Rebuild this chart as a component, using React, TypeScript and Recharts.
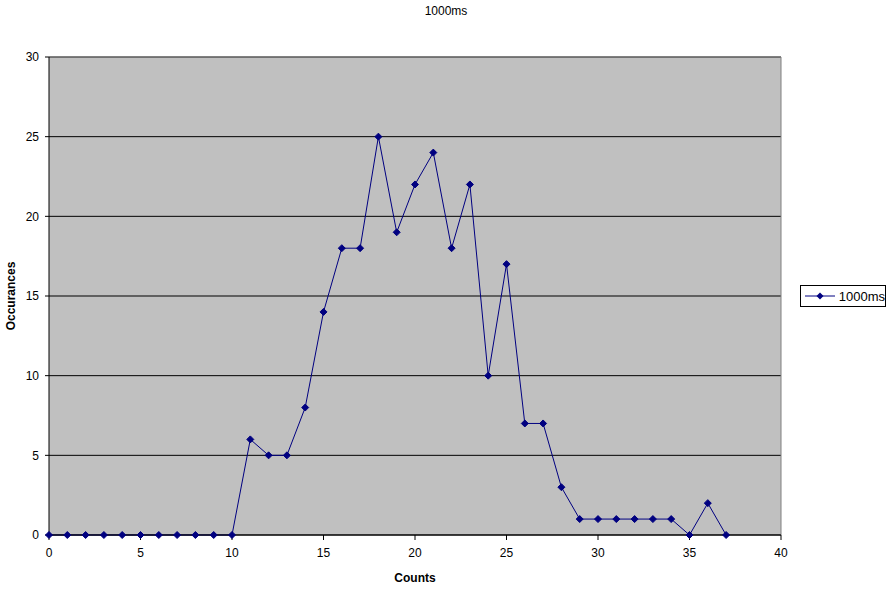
import React from 'react';
import {
  LineChart,
  Line,
  XAxis,
  YAxis,
  CartesianGrid,
  Legend,
  ReferenceLine,
} from 'recharts';

const counts = [
  0, 1, 2, 3, 4, 5, 6, 7, 8, 9, 10, 11, 12, 13, 14, 15, 16, 17, 18, 19, 20, 21, 22, 23, 24, 25, 26, 27, 28, 29, 30, 31,
  32, 33, 34, 35, 36, 37,
];
const occurances = [
  0, 0, 0, 0, 0, 0, 0, 0, 0, 0, 0, 6, 5, 5, 8, 14, 18, 18, 25, 19, 22, 24, 18, 22, 10, 17, 7, 7, 3, 1, 1, 1, 1, 1, 1, 0,
  2, 0,
];
const xTicks = [0, 5, 10, 15, 20, 25, 30, 35, 40];
const yTicks = [0, 5, 10, 15, 20, 25, 30];

const data = counts.map((c, i) => ({ count: c, value: occurances[i] }));

const font = '"Liberation Sans", Arial, sans-serif';
const navy = '#000080';

const Diamond = (props: any) => {
  const { cx, cy } = props;
  if (cx == null || cy == null) return null;
  const r = 3.5;
  return (
    <polygon
      points={`${cx},${cy - r} ${cx + r},${cy} ${cx},${cy + r} ${cx - r},${cy}`}
      fill={navy}
      stroke={navy}
    />
  );
};

const LegendBox = () => (
  <div
    style={{
      border: '1px solid #000',
      background: '#fff',
      width: 86,
      height: 22,
      display: 'flex',
      alignItems: 'center',
      fontFamily: font,
      fontSize: 13,
      boxSizing: 'border-box',
    }}
  >
    <svg width={36} height={10} style={{ marginLeft: 4 }}>
      <line x1={0} y1={5} x2={30} y2={5} stroke={navy} />
      <polygon points="15,1.5 18.5,5 15,8.5 11.5,5" fill={navy} />
    </svg>
    <span>1000ms</span>
  </div>
);

export default function App() {
  return (
    <div style={{ position: 'absolute', left: 0, top: 0, width: 892, height: 595, background: '#fff' }}>
      <div
        style={{
          position: 'absolute',
          top: 4,
          left: 0,
          width: 892,
          textAlign: 'center',
          fontFamily: font,
          fontSize: 12,
        }}
      >
        1000ms
      </div>
      <LineChart width={892} height={595} data={data} margin={{ top: 57, right: 25, bottom: 30, left: 9 }}>
        <CartesianGrid vertical={false} stroke="#000" fill="#c0c0c0" fillOpacity={1} />
        <XAxis
          dataKey="count"
          type="number"
          domain={[0, 40]}
          ticks={xTicks}
          height={30}
          stroke="#000"
          tickSize={5}
          tick={{ fill: '#000', fontFamily: font, fontSize: 12 }}
          tickMargin={8}
          label={{
            value: 'Counts',
            position: 'insideBottom',
            offset: -17,
            fill: '#000',
            fontFamily: font,
            fontSize: 12,
            fontWeight: 'bold',
          }}
        />
        <YAxis
          type="number"
          domain={[0, 30]}
          ticks={yTicks}
          width={40}
          stroke="#000"
          tickSize={4}
          tickMargin={6}
          tick={{ fill: '#000', fontFamily: font, fontSize: 12 }}
          label={{
            value: 'Occurances',
            angle: -90,
            position: 'insideLeft',
            offset: 2,
            fill: '#000',
            fontFamily: font,
            fontSize: 12,
            fontWeight: 'bold',
            style: { textAnchor: 'middle' },
          }}
        />
        <ReferenceLine y={30} stroke="#808080" />
        <ReferenceLine x={40} stroke="#808080" />
        <Legend
          layout="vertical"
          align="right"
          verticalAlign="middle"
          width={86}
          content={<LegendBox />}
          wrapperStyle={{ left: 800, top: 285, right: 'auto' }}
        />
        <Line
          dataKey="value"
          stroke={navy}
          strokeWidth={1}
          dot={<Diamond />}
          activeDot={false}
          isAnimationActive={false}
          type="linear"
        />
      </LineChart>
    </div>
  );
}
